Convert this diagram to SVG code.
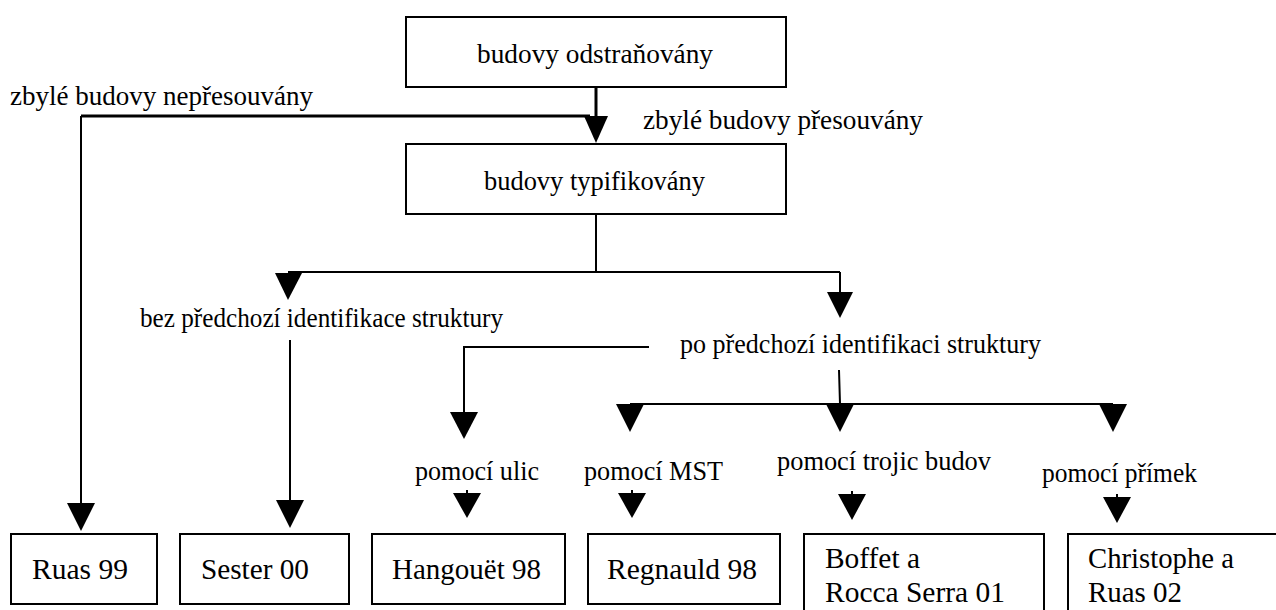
<svg xmlns="http://www.w3.org/2000/svg" width="1276" height="610" viewBox="0 0 1276 610" font-family="'Liberation Serif', 'Times New Roman', serif">
<style>
text{font-family:'Liberation Serif','Times New Roman',serif;font-size:27px;fill:#000}
.bt{font-size:30px}
.box{fill:#fff;stroke:#000;stroke-width:2}
.ln{fill:none;stroke:#000;stroke-width:2}
.ln3{fill:none;stroke:#000;stroke-width:3}
.ah{fill:#000}
</style>
<rect width="1276" height="610" fill="#fff"/>
<g id="connectors">
<path class="ln3" d="M596,87V118"/>
<path class="ln3" d="M81,116H590"/>
<polygon class="ah" points="584,116 608,116 596,143"/>
<path class="ln" d="M596,214V272M288,272H840"/>
<polygon class="ah" points="275,273 302,273 288,300"/>
<path class="ln" d="M840,272V293"/>
<polygon class="ah" points="827,292 853,292 840,318"/>
<path class="ln" d="M81,116V504"/>
<polygon class="ah" points="67,503 95,503 81,531"/>
<path class="ln" d="M290,340V501"/>
<polygon class="ah" points="276,500 304,500 290,528"/>
<path class="ln" d="M649,347H464V413"/>
<polygon class="ah" points="450,412 478,412 464,439"/>
<path class="ln" d="M839,370L840,404M630,404H1113"/>
<polygon class="ah" points="616,404 644,404 630,432"/>
<polygon class="ah" points="826,404 854,404 840,432"/>
<polygon class="ah" points="1099,404 1127,404 1113,432"/>
<path class="ln" d="M467,490V494M632,490V494M852,491V495M1117,494V498"/>
<polygon class="ah" points="453,493 481,493 467,518"/>
<polygon class="ah" points="618,493 646,493 632,518"/>
<polygon class="ah" points="838,494 866,494 852,520"/>
<polygon class="ah" points="1103,497 1131,497 1117,523"/>
</g>
<g id="n-top"><rect class="box" x="406" y="17" width="380" height="70"/><text x="477" y="63" textLength="236" lengthAdjust="spacingAndGlyphs">budovy odstraňovány</text></g>
<g id="n-typ"><rect class="box" x="406" y="144" width="380" height="70"/><text x="484" y="190" textLength="221" lengthAdjust="spacingAndGlyphs">budovy typifikovány</text></g>
<g id="l-nepres"><text x="10" y="105" textLength="303" lengthAdjust="spacingAndGlyphs">zbylé budovy nepřesouvány</text></g>
<g id="l-pres"><text x="643" y="129" textLength="280" lengthAdjust="spacingAndGlyphs">zbylé budovy přesouvány</text></g>
<g id="l-bez"><text x="140" y="327" textLength="363" lengthAdjust="spacingAndGlyphs">bez předchozí identifikace struktury</text></g>
<g id="l-po"><text x="680" y="353" textLength="361" lengthAdjust="spacingAndGlyphs">po předchozí identifikaci struktury</text></g>
<g id="l-ulic"><text x="415" y="480" textLength="124" lengthAdjust="spacingAndGlyphs">pomocí ulic</text></g>
<g id="l-mst"><text x="584" y="480" textLength="139" lengthAdjust="spacingAndGlyphs">pomocí MST</text></g>
<g id="l-troj"><text x="777" y="470" textLength="214" lengthAdjust="spacingAndGlyphs">pomocí trojic budov</text></g>
<g id="l-prim"><text x="1042" y="482" textLength="155" lengthAdjust="spacingAndGlyphs">pomocí přímek</text></g>
<g id="n-ruas"><rect class="box" x="11" y="534" width="146" height="70"/><text class="bt" x="32" y="579" textLength="96" lengthAdjust="spacingAndGlyphs">Ruas 99</text></g>
<g id="n-sester"><rect class="box" x="180" y="534" width="169" height="70"/><text class="bt" x="201" y="579" textLength="108" lengthAdjust="spacingAndGlyphs">Sester 00</text></g>
<g id="n-hang"><rect class="box" x="372" y="534" width="193" height="70"/><text class="bt" x="392" y="579" textLength="149" lengthAdjust="spacingAndGlyphs">Hangouët 98</text></g>
<g id="n-regn"><rect class="box" x="588" y="534" width="192" height="70"/><text class="bt" x="607" y="579" textLength="150" lengthAdjust="spacingAndGlyphs">Regnauld 98</text></g>
<g id="n-boffet"><rect class="box" x="804" y="534" width="240" height="90"/><text class="bt" x="825" y="568" textLength="95" lengthAdjust="spacingAndGlyphs">Boffet a</text><text class="bt" x="825" y="602" textLength="180" lengthAdjust="spacingAndGlyphs">Rocca Serra 01</text></g>
<g id="n-chris"><rect class="box" x="1068" y="534" width="220" height="90"/><text class="bt" x="1088" y="568" textLength="146" lengthAdjust="spacingAndGlyphs">Christophe a</text><text class="bt" x="1088" y="602" textLength="94" lengthAdjust="spacingAndGlyphs">Ruas 02</text></g>
</svg>
